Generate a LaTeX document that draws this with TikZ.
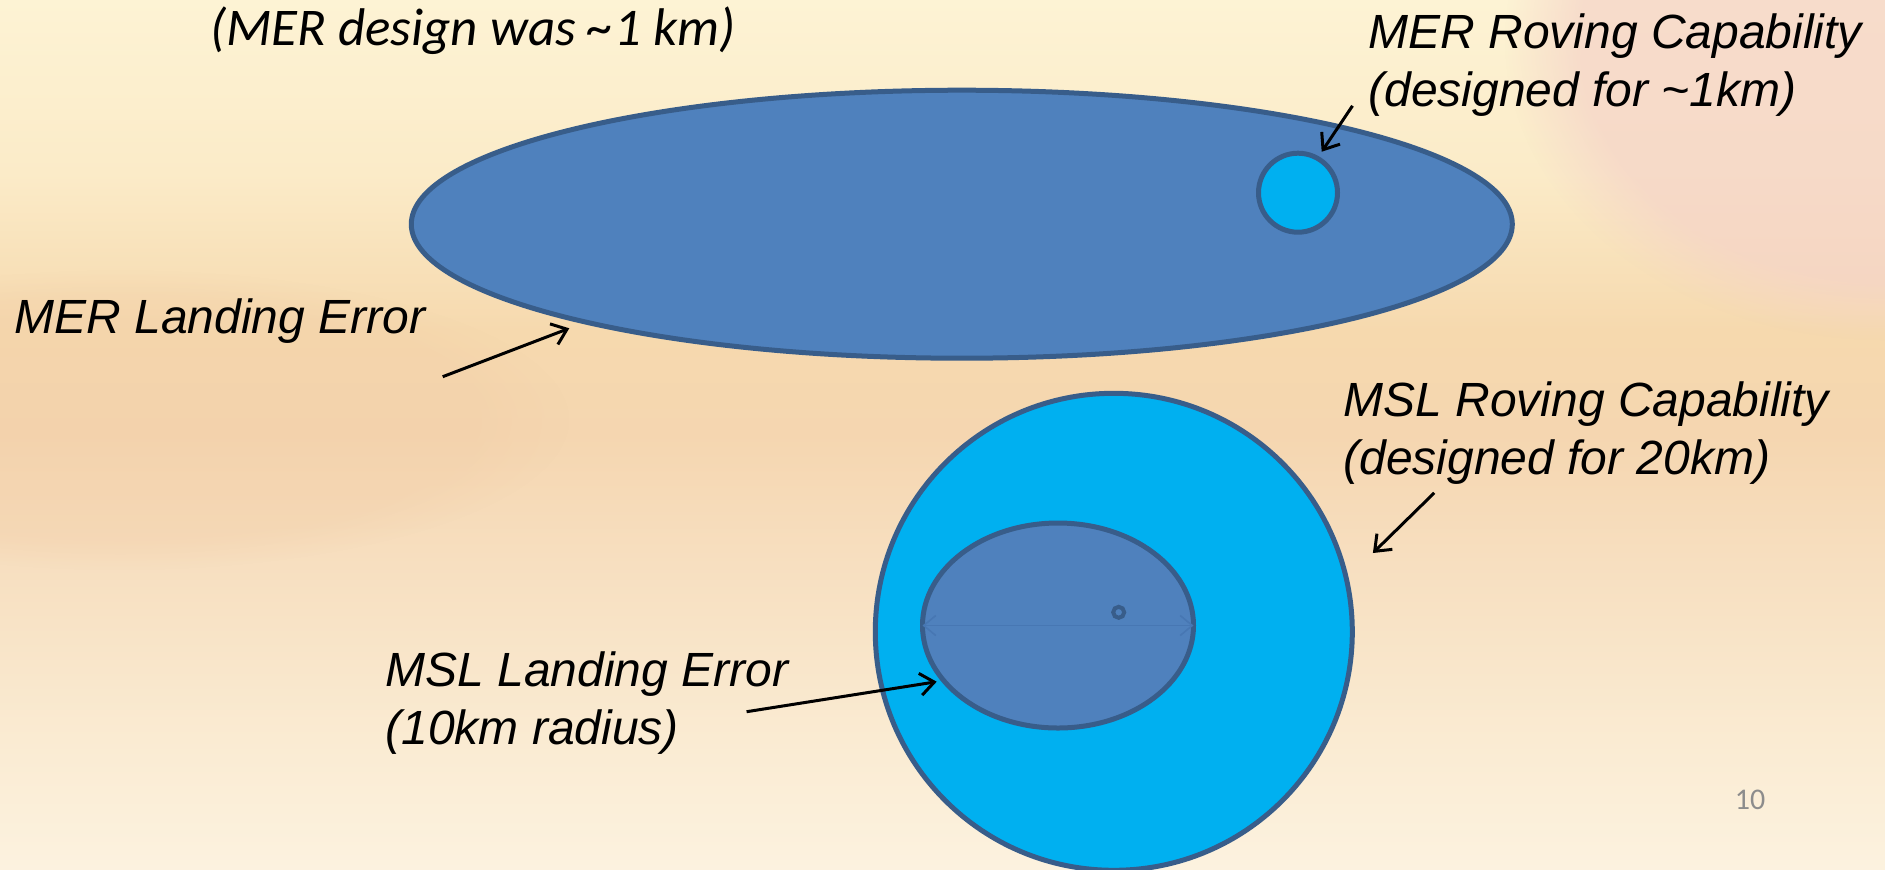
\documentclass[tikz,border=0pt]{standalone}
\usepackage{fontspec}
\setmainfont{Liberation Sans}
\newfontfamily\arialfont{Liberation Sans}
\newfontfamily\calfont{Carlito}
\usetikzlibrary{arrows.meta,fadings,shapes.geometric}
\definecolor{merfill}{HTML}{4F81BD}
\definecolor{edgeblue}{HTML}{385D8A}
\definecolor{cyanfill}{HTML}{00B0F0}
\definecolor{faintline}{HTML}{4777B3}
\definecolor{bgA}{HTML}{FCF2DF}
\definecolor{bgB}{HTML}{FAEBD2}
\definecolor{bgC}{HTML}{F7DFC0}
\definecolor{bgD}{HTML}{F5D6B0}
\definecolor{bgE}{HTML}{F6D9AE}
\definecolor{bgF}{HTML}{FBEBC8}
\definecolor{bgG}{HTML}{FDF3D4}
\definecolor{pinkbg}{HTML}{F5D3C8}
\definecolor{peachbg}{HTML}{F1CCA6}
\definecolor{pagegray}{HTML}{8C8C8C}
\pgfdeclareverticalshading{slidebg}{100bp}{color(0bp)=(bgA); color(25bp)=(bgA); color(32.5bp)=(bgB); color(42.5bp)=(bgC); color(50bp)=(bgD); color(56bp)=(bgE); color(65bp)=(bgF); color(75bp)=(bgG); color(100bp)=(bgG)}
\tikzset{
  lbl/.style={font=\arialfont\fontsize{24pt}{29pt}\selectfont\itshape, text=black, inner sep=0pt, align=left, anchor=west},
  ptr/.style={draw=black, line width=1.5pt, -{Straight Barb[length=7pt,width=11pt,line width=1.5pt]}},
  shapeline/.style={draw=edgeblue, line width=2.5pt, inner sep=0pt, outer sep=0pt},
}
\begin{document}
\begin{tikzpicture}[x=0.5pt,y=-0.5pt]
\useasboundingbox (0,0) rectangle (1885,869);
% background
\shade[shading=slidebg] (0,0) rectangle (1885,869);
\fill[pinkbg, path fading=circle with fuzzy edge 20 percent, opacity=0.7] (1885,40) ellipse (380 and 300);
\fill[peachbg, path fading=circle with fuzzy edge 20 percent, opacity=0.3] (120,420) ellipse (450 and 150);

% shapes
\node[shapeline, ellipse, fill=merfill, minimum width=550.5pt, minimum height=134pt] (merland) at (961.8,224.2) {};
\node[shapeline, circle, fill=cyanfill, minimum size=39.5pt] (merrove) at (1298,192.7) {};
\node[shapeline, circle, fill=cyanfill, minimum size=238.5pt] (mslrove) at (1113.8,631.8) {};
\node[shapeline, ellipse, fill=merfill, minimum width=135.5pt, minimum height=102.5pt] (mslland) at (1058,625.5) {};
\draw[faintline, line width=0.8pt, {Straight Barb[length=6pt,width=10pt]}-{Straight Barb[length=6pt,width=10pt]}] (mslland.west) -- (mslland.east);
\node[circle, draw=edgeblue, fill=merfill, line width=2pt, minimum size=5.5pt, inner sep=0pt] (dot) at (1118.7,612.3) {};

% texts
\node[font=\calfont\fontsize{26.5pt}{31pt}\selectfont\itshape, inner sep=0pt, anchor=west] (title) at (210,31) {(MER design was \textasciitilde1 km)};
\node[lbl] (merrovetxt) at (1368,65) {MER Roving Capability\\(designed for \textasciitilde1km)};
\node[lbl] (merlandtxt) at (14,321) {MER Landing Error};
\node[lbl] (mslrovetxt) at (1343,433) {MSL Roving Capability\\(designed for 20km)};
\node[lbl] (msllandtxt) at (385,703.5) {MSL Landing Error\\(10km radius)};
\node[font=\calfont\fontsize{15pt}{18pt}\selectfont, text=pagegray, inner sep=0pt] (pagenum) at (1750,800) {10};

% connectors
\coordinate (a1s) at (442.7,376.7);
\coordinate (a1e) at (569.3,328.3);
\coordinate (a2s) at (1352.5,105.8);
\coordinate (a2e) at (1321.7,151.7);
\coordinate (a3s) at (1434.2,492.9);
\coordinate (a3e) at (1372.9,553);
\coordinate (a4s) at (746.6,711.7);
\coordinate (a4e) at (936.7,681.7);
\draw[ptr] (a1s) -- (a1e);
\draw[ptr] (a2s) -- (a2e);
\draw[ptr] (a3s) -- (a3e);
\draw[ptr] (a4s) -- (a4e);
\end{tikzpicture}
\end{document}
